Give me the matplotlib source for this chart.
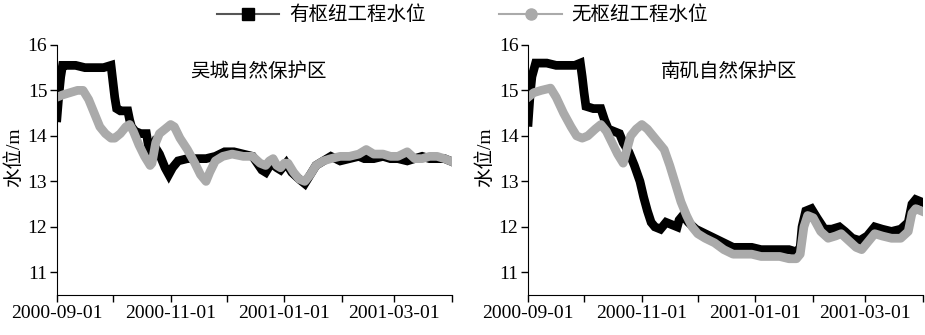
import numpy as np
import pandas as pd
import matplotlib
matplotlib.use('Agg')
import matplotlib.pyplot as plt
import matplotlib.dates as mdates
from matplotlib.lines import Line2D

plt.rcParams['font.family'] = ['Liberation Serif', 'Noto Sans CJK SC']

start = pd.Timestamp('2000-09-01')

# 吴城 - 有枢纽工程 (days since 2000-09-01, water level m)
wu_with_days = [0, 1, 2, 3, 5, 10, 15, 20, 25, 29, 30, 31, 32, 34, 38, 39, 40, 42, 45, 48,
                49, 50, 52, 55, 58, 60, 62, 65, 70, 75, 80, 85, 90, 95, 100, 105, 110, 112,
                115, 118, 120, 123, 126, 130, 133, 136, 139, 143, 147, 152, 157, 162, 165,
                170, 175, 179, 183, 188, 192, 196, 200, 204, 208, 211]
wu_with = [14.4, 14.9, 15.3, 15.55, 15.55, 15.55, 15.5, 15.5, 15.5, 15.55, 15.2, 14.85, 14.6,
           14.55, 14.55, 14.35, 14.2, 14.1, 14.05, 14.05, 13.8, 13.6, 13.8, 13.6, 13.3, 13.15,
           13.3, 13.45, 13.5, 13.5, 13.5, 13.55, 13.65, 13.65, 13.6, 13.55, 13.25, 13.2, 13.4,
           13.3, 13.25, 13.4, 13.2, 13.05, 12.95, 13.15, 13.35, 13.45, 13.55, 13.45, 13.5,
           13.55, 13.5, 13.5, 13.55, 13.5, 13.5, 13.45, 13.5, 13.55, 13.5, 13.5, 13.5, 13.45]

# 吴城 - 无枢纽工程
wu_without_days = [0, 3, 7, 11, 14, 17, 20, 23, 26, 29, 31, 34, 37, 39, 41, 44, 47, 50, 51, 53,
                   55, 58, 61, 63, 66, 70, 74, 77, 80, 82, 85, 89, 94, 100, 105, 109, 112, 114,
                   116, 118, 120, 122, 124, 127, 130, 133, 136, 139, 143, 147, 152, 157, 162,
                   166, 170, 175, 179, 183, 188, 192, 196, 200, 204, 208, 211]
wu_without = [14.85, 14.9, 14.95, 15.0, 15.0, 14.8, 14.5, 14.2, 14.05, 13.95, 13.95, 14.05, 14.2,
              14.25, 14.1, 13.8, 13.55, 13.35, 13.4, 13.85, 14.05, 14.15, 14.25, 14.2, 13.95,
              13.7, 13.4, 13.15, 13.0, 13.2, 13.45, 13.55, 13.6, 13.55, 13.55, 13.4, 13.35,
              13.45, 13.5, 13.35, 13.3, 13.4, 13.4, 13.2, 13.05, 13.0, 13.15, 13.35, 13.45, 13.5,
              13.55, 13.55, 13.6, 13.7, 13.6, 13.6, 13.55, 13.55, 13.65, 13.5, 13.5, 13.55,
              13.55, 13.5, 13.45]

# 南矶 - 有枢纽工程
nj_with_days = [0, 1, 2, 4, 10, 15, 20, 25, 28, 29, 30, 31, 35, 39, 41, 43, 46, 49, 51, 54, 57,
                60, 62, 64, 66, 68, 71, 74, 77, 80, 81, 83, 86, 90, 95, 100, 105, 110, 115, 120,
                125, 130, 135, 140, 144, 146, 147, 149, 152, 155, 159, 163, 167, 170, 174, 178,
                182, 186, 190, 195, 200, 204, 206, 208, 211]
nj_with = [14.3, 14.9, 15.3, 15.6, 15.6, 15.55, 15.55, 15.55, 15.6, 15.3, 14.95, 14.65, 14.6,
           14.6, 14.35, 14.15, 14.1, 14.05, 13.85, 13.65, 13.35, 13.0, 12.65, 12.35, 12.1, 12.0,
           11.95, 12.1, 12.05, 12.0, 12.15, 12.25, 12.1, 11.95, 11.85, 11.75, 11.65, 11.55,
           11.55, 11.55, 11.5, 11.5, 11.5, 11.5, 11.45, 11.55, 12.0, 12.35, 12.4, 12.2, 11.95,
           11.95, 12.0, 11.9, 11.75, 11.7, 11.8, 12.0, 11.95, 11.9, 11.95, 12.1, 12.5, 12.6,
           12.55]

# 南矶 - 无枢纽工程
nj_without_days = [0, 3, 7, 12, 15, 19, 23, 26, 29, 32, 36, 39, 42, 45, 48, 51, 53, 55, 58, 61,
                   64, 67, 70, 73, 76, 79, 82, 85, 88, 91, 95, 100, 105, 110, 115, 120, 125, 130,
                   135, 140, 144, 146, 148, 150, 153, 157, 161, 165, 168, 172, 176, 179, 183,
                   186, 190, 195, 200, 204, 206, 208, 211]
nj_without = [14.85, 14.95, 15.0, 15.05, 14.85, 14.5, 14.2, 14.0, 13.95, 14.0, 14.15, 14.25,
              14.1, 13.85, 13.6, 13.4, 13.7, 14.0, 14.15, 14.25, 14.15, 14.0, 13.85, 13.7, 13.35,
              12.95, 12.55, 12.25, 12.0, 11.85, 11.75, 11.65, 11.5, 11.4, 11.4, 11.4, 11.35,
              11.35, 11.35, 11.3, 11.3, 11.4, 12.0, 12.25, 12.2, 11.9, 11.75, 11.8, 11.85, 11.7,
              11.55, 11.5, 11.7, 11.85, 11.8, 11.75, 11.75, 11.9, 12.3, 12.4, 12.35]

titles = ['吴城自然保护区', '南矶自然保护区']
legend_labels = ['有枢纽工程水位', '无枢纽工程水位']
yticks = [11, 12, 13, 14, 15, 16]


def to_dates(days):
    return start + pd.to_timedelta(days, unit='D')


fig = plt.figure(figsize=(9.25, 3.35), dpi=100)
ax1 = fig.add_axes([0.0616, 0.119, 0.427, 0.747])
ax2 = fig.add_axes([0.571, 0.119, 0.427, 0.747])

panels = [(ax1, wu_with_days, wu_with, wu_without_days, wu_without),
          (ax2, nj_with_days, nj_with, nj_without_days, nj_without)]

for k, (ax, d1, v1, d2, v2) in enumerate(panels):
    ax.plot(to_dates(d1), v1, color='black', lw=6.3, solid_joinstyle='miter')
    ax.plot(to_dates(d2), v2, color='#aaaaaa', lw=6.3)
    ax.set_xlim(pd.Timestamp('2000-09-01'), pd.Timestamp('2001-04-01'))
    ax.set_ylim(10.5, 16)
    ax.set_yticks(yticks)
    ax.xaxis.set_major_locator(mdates.MonthLocator(bymonth=[1, 3, 9, 11]))
    ax.xaxis.set_minor_locator(mdates.MonthLocator())
    ax.xaxis.set_major_formatter(mdates.DateFormatter('%Y-%m-%d'))
    ax.tick_params(axis='both', which='both', direction='out', length=5, width=1,
                   labelsize=14, pad=2)
    ax.spines['top'].set_visible(False)
    ax.spines['right'].set_visible(False)
    ax.set_ylabel('水位/m', fontsize=14)
    ax.yaxis.set_label_coords(-0.085, 0.55)
    ax.text(0.51, 0.93, titles[k], transform=ax.transAxes, ha='center', va='top',
            fontsize=14)

handles = [Line2D([], [], color='#555555', lw=1.5, marker='s', ms=8, mfc='black', mec='black'),
           Line2D([], [], color='#aaaaaa', lw=1.5, marker='o', ms=8, mfc='#aaaaaa',
                  mec='#aaaaaa')]
fig.legend(handles, legend_labels, loc='center', bbox_to_anchor=(0.5, 0.955), ncol=2,
           frameon=False, fontsize=14, handlelength=3.2, handletextpad=0.5,
           columnspacing=3.8)

fig.savefig('out.png', dpi=100)
